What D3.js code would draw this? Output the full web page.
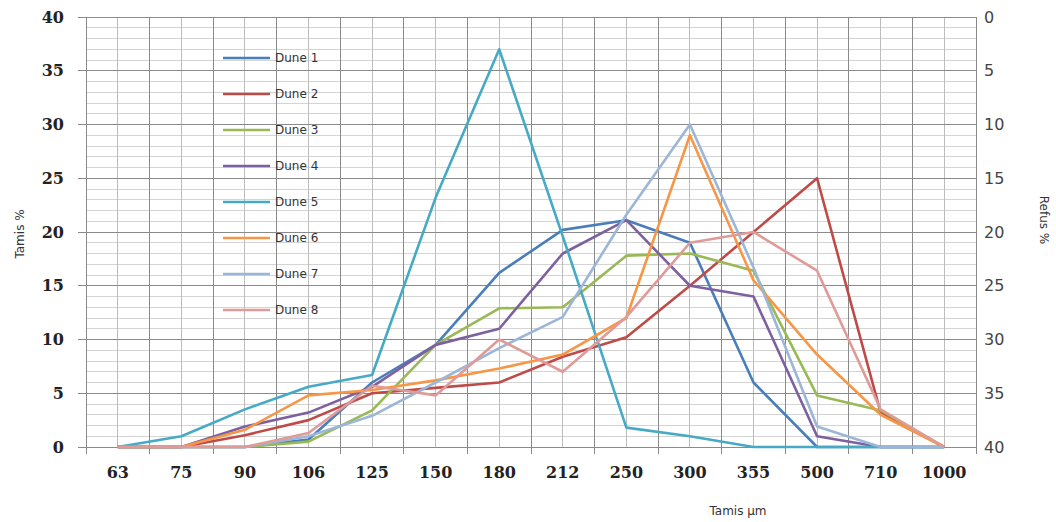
<!DOCTYPE html>
<meta charset="utf-8">
<script src="https://cdn.jsdelivr.net/npm/d3@7"></script>
<style>
body { margin: 0; background: #fff; }
.grid-minor { stroke: #d4d4d4; stroke-width: 1; shape-rendering: crispEdges; }
.grid-major { stroke: #8a8a8a; stroke-width: 1; shape-rendering: crispEdges; }
.left-lab text { font-family: "DejaVu Serif", serif; font-weight: bold; font-size: 16px; fill: #222; }
.x-lab text { font-family: "DejaVu Serif", serif; font-weight: bold; font-size: 16px; fill: #222; }
.right-lab text { font-family: "DejaVu Sans", sans-serif; font-size: 16px; fill: #444; }
.title { font-family: "DejaVu Sans", sans-serif; font-size: 12px; fill: #333; }
.legend text { font-family: "DejaVu Sans", sans-serif; font-size: 12px; fill: #333; }
</style>
<body>
<div id="chart"></div>
<script>
// ---------------- data ----------------
const sieves = ["63", "75", "90", "106", "125", "150", "180", "212", "250", "300", "355", "500", "710", "1000"];
const leftTicks = [0, 5, 10, 15, 20, 25, 30, 35, 40];
const rightTicks = [0, 5, 10, 15, 20, 25, 30, 35, 40];

const dune1 = [0, 0, 0, 0.7, 6.0, 9.5, 16.2, 20.2, 21.1, 19, 6, 0, 0, 0];
const dune2 = [0, 0, 1.1, 2.5, 5.0, 5.5, 6.0, 8.4, 10.2, 15, 20.0, 25, 3.2, 0];
const dune3 = [0, 0, 0, 0.5, 3.4, 9.5, 12.9, 13.0, 17.8, 18.0, 16.4, 4.8, 3.4, 0];
const dune4 = [0, 0, 1.9, 3.2, 5.6, 9.5, 11.0, 18.0, 21.1, 15, 14.0, 1.0, 0, 0];
const dune5 = [0, 1.0, 3.5, 5.6, 6.7, 23.2, 37, 19.6, 1.8, 1.0, 0, 0, 0, 0];
const dune6 = [0, 0, 1.6, 4.8, 5.3, 6.2, 7.3, 8.6, 12.0, 29.0, 15.5, 8.6, 3.0, 0];
const dune7 = [0, 0, 0, 1.0, 2.9, 6.0, 9.2, 12.1, 21.6, 30, 16.7, 1.9, 0, 0];
const dune8 = [0, 0, 0, 1.3, 5.7, 4.8, 10.0, 7.0, 12.1, 19.0, 20.0, 16.4, 3.5, 0];

const names = ["Dune 1", "Dune 2", "Dune 3", "Dune 4", "Dune 5", "Dune 6", "Dune 7", "Dune 8"];
const colors = ["#4a7ebb", "#be4b48", "#98b954", "#7d60a0", "#46aac5", "#f79646", "#9cb6d8", "#e09a98"];
const series = [dune1, dune2, dune3, dune4, dune5, dune6, dune7, dune8];

// ---------------- layout ----------------
const W = 1056, H = 522;
const pLeft = 86, pRight = 976, pTop = 17, pBottom = 447;

const svg = d3.select("#chart").append("svg")
    .attr("width", W)
    .attr("height", H);

const x = d3.scaleBand().domain(sieves).range([pLeft, pRight]).padding(0);
const bw = x.bandwidth();
const cx = function(c) { return x(c) + bw / 2; };
const y = d3.scaleLinear().domain([0, 40]).range([pBottom, pTop]);
const yR = d3.scaleLinear().domain([0, 40]).range([pTop, pBottom]);

// ---------------- grid ----------------
const g = svg.append("g");
// minor horizontals every 1
g.selectAll(".hmin")
    .data(d3.range(0, 41).filter(function(v) { return v % 5 != 0; }))
    .enter().append("line")
    .attr("class", "grid-minor")
    .attr("x1", pLeft).attr("x2", pRight)
    .attr("y1", function(d) { return y(d); })
    .attr("y2", function(d) { return y(d); });
// verticals at category centres (lighter)
g.selectAll(".vmin")
    .data(sieves)
    .enter().append("line")
    .attr("class", "grid-minor")
    .style("stroke", "#bdbdbd")
    .attr("x1", function(d) { return cx(d); }).attr("x2", function(d) { return cx(d); })
    .attr("y1", pTop).attr("y2", pBottom);
// major horizontals every 5
g.selectAll(".hmaj")
    .data(leftTicks)
    .enter().append("line")
    .attr("class", "grid-major")
    .attr("x1", pLeft - 8).attr("x2", pRight)
    .attr("y1", function(d) { return y(d); })
    .attr("y2", function(d) { return y(d); });
// verticals at band edges
const edges = sieves.map(function(c) { return x(c); }).concat([pRight]);
g.selectAll(".vmaj")
    .data(edges)
    .enter().append("line")
    .attr("class", "grid-major")
    .attr("x1", function(d) { return d; }).attr("x2", function(d) { return d; })
    .attr("y1", pTop).attr("y2", pBottom + 7);

// ---------------- axes ----------------
const yAxisL = d3.axisLeft(y).tickValues(leftTicks).tickSize(0).tickPadding(22);
svg.append("g")
    .attr("class", "left-lab")
    .attr("transform", "translate(" + pLeft + ",0)")
    .call(yAxisL)
    .call(function(s) { s.select(".domain").remove(); });

const yAxisR = d3.axisRight(yR).tickValues(rightTicks).tickSize(0).tickPadding(8);
svg.append("g")
    .attr("class", "right-lab")
    .attr("transform", "translate(" + pRight + ",0)")
    .call(yAxisR)
    .call(function(s) { s.select(".domain").remove(); });

const xAxis = d3.axisBottom(x).tickSize(0).tickPadding(20);
svg.append("g")
    .attr("class", "x-lab")
    .attr("transform", "translate(0," + pBottom + ")")
    .call(xAxis)
    .call(function(s) { s.select(".domain").remove(); });

svg.append("text")
    .attr("class", "title")
    .attr("transform", "translate(24," + (y(20) + 2) + ") rotate(-90)")
    .style("text-anchor", "middle")
    .text("Tamis %");

svg.append("text")
    .attr("class", "title")
    .attr("transform", "translate(1040," + (y(20) - 12) + ") rotate(90)")
    .style("text-anchor", "middle")
    .text("Refus %");

svg.append("text")
    .attr("class", "title")
    .attr("x", 738).attr("y", 515)
    .style("text-anchor", "middle")
    .text("Tamis µm");

// ---------------- lines ----------------
const line = d3.line()
    .x(function(d, i) { return cx(sieves[i]); })
    .y(function(d) { return y(d); });

svg.append("g").selectAll("path")
    .data(series)
    .enter().append("path")
    .attr("fill", "none")
    .attr("stroke", function(d, i) { return colors[i]; })
    .attr("stroke-width", 2.6)
    .attr("stroke-linejoin", "round")
    .attr("d", line);

// ---------------- legend ----------------
const leg = svg.append("g").attr("class", "legend");
const items = leg.selectAll("g")
    .data(names)
    .enter().append("g")
    .attr("transform", function(d, i) { return "translate(223," + (58 + i * 36) + ")"; });
items.append("line")
    .attr("x1", 0).attr("x2", 47)
    .attr("stroke", function(d, i) { return colors[i]; })
    .attr("stroke-width", 2.6);
items.append("text")
    .attr("x", 52).attr("dy", "0.35em")
    .text(function(d) { return d; });
</script>
</body>
